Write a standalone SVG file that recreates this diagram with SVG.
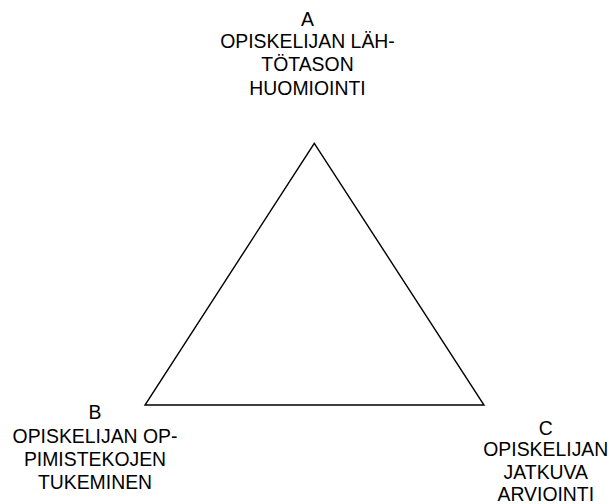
<svg xmlns="http://www.w3.org/2000/svg" width="611" height="504" viewBox="0 0 611 504">
<style>
.lbl{font-family:"Liberation Sans",Arial,sans-serif;font-size:19.4px;fill:#000;text-anchor:middle}
.edge{stroke:#000;stroke-width:1.4;fill:none;stroke-linejoin:miter}
</style>
<rect width="611" height="504" fill="#fff"/>
<g id="connectors">
<polygon class="edge" points="314.3,143.3 484,405 145,405"/>
</g>
<g id="nodeA">
<text class="lbl" x="307.5" y="26">A</text>
<text class="lbl" x="307.5" y="47.7">OPISKELIJAN LÄH-</text>
<text class="lbl" x="307.5" y="71.3">TÖTASON</text>
<text class="lbl" x="307.5" y="95">HUOMIOINTI</text>
</g>
<g id="nodeB">
<text class="lbl" x="95" y="419.4">B</text>
<text class="lbl" x="95" y="442.7">OPISKELIJAN OP-</text>
<text class="lbl" x="95" y="466">PIMISTEKOJEN</text>
<text class="lbl" x="95" y="489.3">TUKEMINEN</text>
</g>
<g id="nodeC">
<text class="lbl" x="545.8" y="434.6">C</text>
<text class="lbl" x="545.8" y="456.2">OPISKELIJAN</text>
<text class="lbl" x="545.8" y="478.6">JATKUVA</text>
<text class="lbl" x="545.8" y="500.6">ARVIOINTI</text>
</g>
</svg>
